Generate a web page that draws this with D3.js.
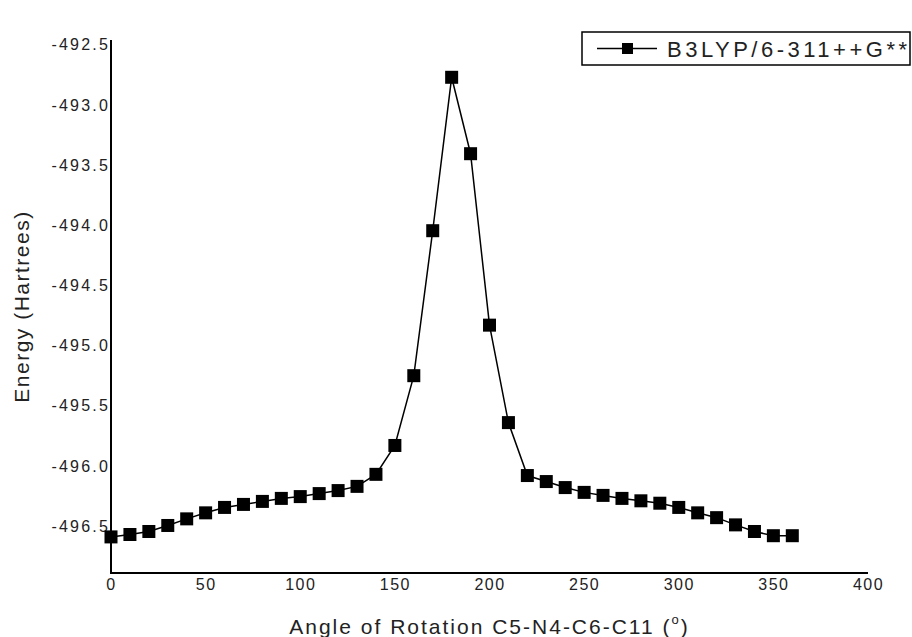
<!DOCTYPE html>
<html>
<head>
<meta charset="utf-8">
<script src="https://cdn.jsdelivr.net/npm/d3@7"></script>
<style>
	body { margin: 0; background: #fff; }
	text { font-family: Arial, "Liberation Sans", sans-serif; fill: #222; }
</style>
</head>
<body>
<svg id="chart" width="912" height="637"></svg>
<script>
var angles = [0, 10, 20, 30, 40, 50, 60, 70, 80, 90, 100, 110, 120, 130, 140, 150, 160, 170, 180,
	190, 200, 210, 220, 230, 240, 250, 260, 270, 280, 290, 300, 310, 320, 330, 340, 350, 360];
var energies = [-496.59, -496.57, -496.545, -496.495, -496.44, -496.39, -496.345, -496.32, -496.295, -496.27,
	-496.255, -496.23, -496.205, -496.17, -496.07, -495.83, -495.25, -494.045, -492.77,
	-493.405, -494.83, -495.64, -496.08, -496.13, -496.18, -496.22, -496.245, -496.27, -496.29,
	-496.31, -496.345, -496.39, -496.43, -496.49, -496.545, -496.58, -496.58];
var xTicks = [0, 50, 100, 150, 200, 250, 300, 350, 400];
var yTicks = [-492.5, -493.0, -493.5, -494.0, -494.5, -495.0, -495.5, -496.0, -496.5];
var seriesName = "B3LYP/6-311++G**";

var PLOT = {"left": 111, "right": 868, "top": 40, "bottom": 573};

function drawChart() {
	var svg = d3.select("#chart");

	var x = d3.scaleLinear()
		.domain([0, 400])
		.range([PLOT.left, PLOT.right]);
	var y = d3.scaleLinear()
		.domain([-496.89, -492.46])
		.range([PLOT.bottom, PLOT.top]);

	var data = angles.map(function(a, i) { return {"a": a, "e": energies[i]}; });

	// axes, no tick marks, just the lines and labels
	var xAxis = d3.axisBottom(x)
		.tickValues(xTicks)
		.tickSize(0)
		.tickPadding(6)
		.tickFormat(d3.format("d"));
	var gx = svg.append("g")
		.attr("transform", "translate(0," + PLOT.bottom + ")")
		.call(xAxis);
	gx.selectAll("text")
		.attr("font-size", 16)
		.attr("letter-spacing", 1.5)
		.attr("fill", "#444");

	var yAxis = d3.axisLeft(y)
		.tickValues(yTicks)
		.tickSize(0)
		.tickPadding(1)
		.tickFormat(d3.format(".1f"));
	var gy = svg.append("g")
		.attr("transform", "translate(" + PLOT.left + ",0)")
		.call(yAxis);
	gy.selectAll("text")
		.attr("font-size", 16)
		.attr("letter-spacing", 2.2)
		.attr("fill", "#444")
		.text(function(d) { return d3.format(".1f")(d).replace("\u2212", "-"); });
	svg.selectAll(".domain").remove();
	// plain axis lines instead of the domain paths
	svg.append("line")
		.attr("x1", PLOT.left).attr("x2", PLOT.left)
		.attr("y1", PLOT.top).attr("y2", PLOT.bottom + 1)
		.attr("stroke", "#000").attr("stroke-width", 2);
	svg.append("line")
		.attr("x1", PLOT.left).attr("x2", PLOT.right)
		.attr("y1", PLOT.bottom).attr("y2", PLOT.bottom)
		.attr("stroke", "#000").attr("stroke-width", 2);

	// series
	var line = d3.line()
		.x(function(d) { return x(d.a); })
		.y(function(d) { return y(d.e); });
	svg.append("path")
		.datum(data)
		.attr("d", line)
		.attr("fill", "none")
		.attr("stroke", "#000")
		.attr("stroke-width", 1.5);

	var size = 13;
	svg.selectAll("rect.pt")
		.data(data)
		.enter().append("rect")
			.classed("pt", true)
			.attr("x", function(d) { return x(d.a) - size / 2; })
			.attr("y", function(d) { return y(d.e) - size / 2; })
			.attr("width", size)
			.attr("height", size)
			.attr("fill", "#000");

	// axis titles
	var xt = svg.append("text")
		.attr("x", (PLOT.left + PLOT.right) / 2)
		.attr("y", 634)
		.attr("text-anchor", "middle")
		.attr("font-size", 21)
		.attr("letter-spacing", 2)
		.text("Angle of Rotation C5-N4-C6-C11 (");
	xt.append("tspan")
		.attr("dy", -10)
		.attr("font-size", 13)
		.text("o");
	xt.append("tspan")
		.attr("dy", 10)
		.text(")");

	svg.append("text")
		.attr("transform", "translate(29," + ((PLOT.top + PLOT.bottom) / 2) + ") rotate(-90)")
		.attr("text-anchor", "middle")
		.attr("font-size", 21)
		.attr("letter-spacing", 1.5)
		.text("Energy (Hartrees)");

	// legend
	var lg = svg.append("g");
	lg.append("rect")
		.attr("x", 582).attr("y", 32)
		.attr("width", 328).attr("height", 33)
		.attr("fill", "#fff")
		.attr("stroke", "#000")
		.attr("stroke-width", 1.5);
	lg.append("line")
		.attr("x1", 597).attr("x2", 657)
		.attr("y1", 48.5).attr("y2", 48.5)
		.attr("stroke", "#000").attr("stroke-width", 1.5);
	lg.append("rect")
		.attr("x", 622).attr("y", 43)
		.attr("width", 11).attr("height", 11)
		.attr("fill", "#000");
	lg.append("text")
		.attr("x", 667).attr("y", 57)
		.attr("font-size", 22)
		.attr("letter-spacing", 3.5)
		.text(seriesName);
}

drawChart();
</script>
</body>
</html>
